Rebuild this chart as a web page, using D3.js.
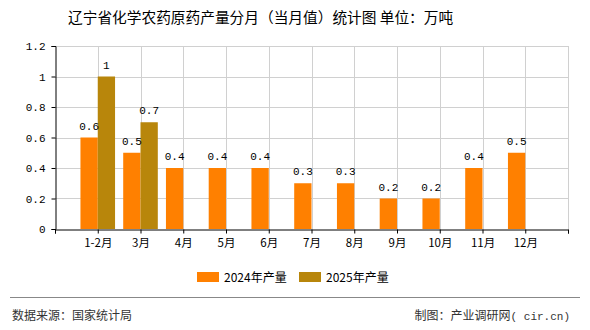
<!DOCTYPE html>
<html><head><meta charset="utf-8">
<script src="https://cdn.jsdelivr.net/npm/d3@7/dist/d3.min.js"></script>
<style>body{margin:0;background:#fff}svg{display:block}</style>
</head><body>
<svg id="c" width="590" height="330"></svg>
<script>
const categories = ["1-2月","3月","4月","5月","6月","7月","8月","9月","10月","11月","12月"];
const values2024 = [0.6,0.5,0.4,0.4,0.4,0.3,0.3,0.2,0.2,0.4,0.5];
const values2025 = [1,0.7,null,null,null,null,null,null,null,null,null];
const yTicks = [0,0.2,0.4,0.6,0.8,1,1.2];
const seriesNames = ["2024年产量","2025年产量"];
const colors = ["#FF8000","#B8860B"];

const svg = d3.select("#c");
const cjk = "'Noto Sans CJK SC','Noto Sans',sans-serif";
const mono = "'Liberation Mono','DejaVu Sans Mono',monospace";
const L = 55, R = 568, T = 46, B = 229;

const x = d3.scaleLinear().domain([0, 12]).range([L, R]);
const y = d3.scaleLinear().domain([0, 1.2]).range([B, T]);
const bw = 17.3;

// title
svg.append("text").attr("x", 68).attr("y", 23).attr("text-anchor","start")
  .attr("font-family", cjk).attr("font-size", 14.7).attr("fill","#000")
  .text("辽宁省化学农药原药产量分月（当月值）统计图 单位：万吨");

// grid
const g = svg.append("g");
g.selectAll("line.h").data(yTicks.slice(1)).join("line")
  .attr("x1", L).attr("x2", R).attr("y1", d=>Math.round(y(d))+0.5).attr("y2", d=>Math.round(y(d))+0.5)
  .attr("stroke","#d0d0d0");
g.selectAll("line.v").data(d3.range(1,13)).join("line")
  .attr("x1", d=>Math.round(x(d))+0.5).attr("x2", d=>Math.round(x(d))+0.5)
  .attr("y1", T).attr("y2", B).attr("stroke","#d0d0d0");

// bars
const bars = svg.append("g");
values2024.forEach((v,i)=>{
  if (v==null) return;
  const cx = x(i+1);
  bars.append("rect").attr("x", cx-bw).attr("y", y(v)).attr("width", bw).attr("height", y(0)-y(v)).attr("fill", colors[0]);
});
values2025.forEach((v,i)=>{
  if (v==null) return;
  const cx = x(i+1);
  bars.append("rect").attr("x", cx).attr("y", y(v)).attr("width", bw).attr("height", y(0)-y(v)).attr("fill", colors[1]);
});
// value labels
values2024.forEach((v,i)=>{
  if (v==null) return;
  svg.append("text").attr("x", x(i+1)-bw/2).attr("y", y(v)-8).attr("text-anchor","middle")
    .attr("font-family", mono).attr("font-size", 11).attr("fill","#000").text(v);
});
values2025.forEach((v,i)=>{
  if (v==null) return;
  svg.append("text").attr("x", x(i+1)+bw/2).attr("y", y(v)-8).attr("text-anchor","middle")
    .attr("font-family", mono).attr("font-size", 11).attr("fill","#000").text(v);
});

// y axis
const ya = svg.append("g").attr("transform", `translate(${L+0.5},0)`)
  .call(d3.axisLeft(y).tickValues(yTicks).tickSize(4).tickFormat(d3.format("")));
ya.select(".domain").attr("stroke","#000");
ya.selectAll(".tick line").attr("stroke","#000");
ya.selectAll("text").attr("font-family", mono).attr("font-size", 11).attr("fill","#000").attr("dx", "-3");

// x axis
const xa = svg.append("g").attr("transform", `translate(0,${B+0.5})`)
  .call(d3.axisBottom(x).tickValues(d3.range(0,13)).tickSize(4).tickFormat(d => d>=1 && d<=categories.length ? categories[d-1] : ""));
xa.select(".domain").attr("stroke","#000");
xa.selectAll(".tick line").attr("stroke","#000");
xa.selectAll("text").attr("font-family", cjk).attr("font-size", 11.5).attr("fill","#000").attr("dy","0.9em");

// legend
const lg = svg.append("g");
const lx = [197, 299];
seriesNames.forEach((n,i)=>{
  lg.append("rect").attr("x", lx[i]).attr("y", 272).attr("width", 22).attr("height", 10).attr("fill", colors[i]);
  lg.append("text").attr("x", lx[i]+27).attr("y", 281.5).attr("font-family", cjk).attr("font-size", 12).attr("fill","#000").text(n);
});

// footer
svg.append("line").attr("x1", 10).attr("x2", 580).attr("y1", 297.5).attr("y2", 297.5).attr("stroke","#888");
svg.append("text").attr("x", 12).attr("y", 319.5).attr("font-family", cjk).attr("font-size", 12).attr("fill","#333").text("数据来源：国家统计局");
const ft = svg.append("text").attr("x", 570).attr("y", 319.5).attr("text-anchor","end").attr("font-family", cjk).attr("font-size", 12).attr("fill","#333");
ft.append("tspan").text("制图：产业调研网");
ft.append("tspan").attr("font-family", mono).attr("font-size", 11).text("( cir.cn)");
</script>
</body></html>
